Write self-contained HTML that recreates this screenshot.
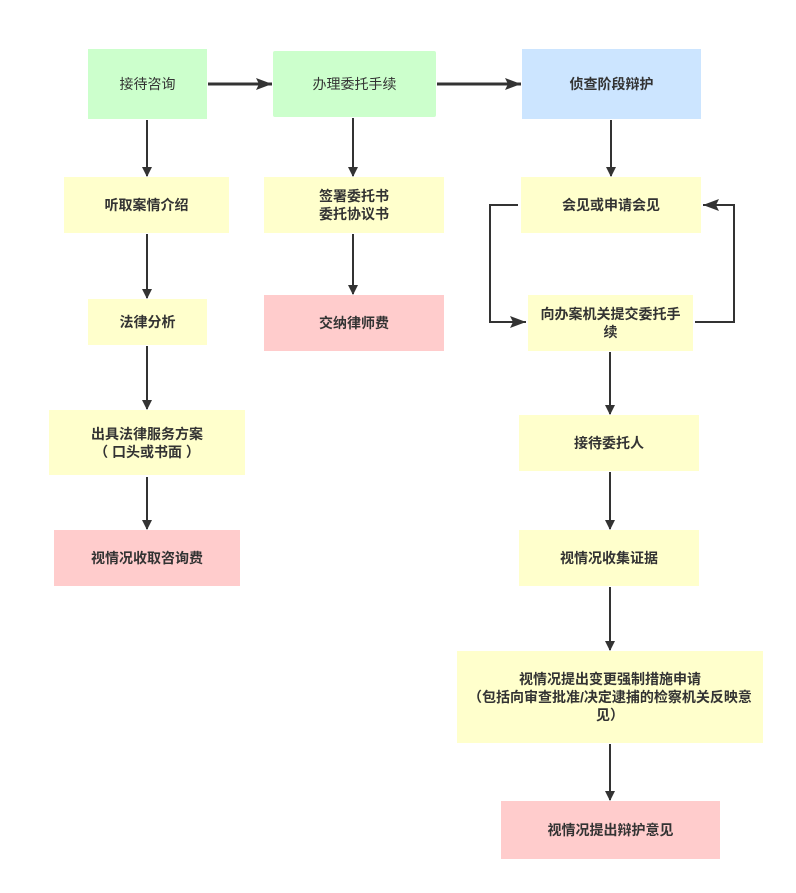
<!DOCTYPE html>
<html><head><meta charset="utf-8"><style>
body{margin:0;width:796px;height:893px;background:#fff;position:relative;overflow:hidden;font-family:"Liberation Sans","Noto Sans CJK SC",sans-serif;}
.b{position:absolute;display:flex;align-items:center;justify-content:center;text-align:center;font-size:14px;line-height:18px;color:#333;font-weight:bold;box-sizing:border-box;padding:0 4px;white-space:nowrap;}
.g{background:#ccffcc;font-weight:normal;}
.y{background:#ffffcc;}
.p{background:#ffcccc;}
.u{background:#cce5ff;}
svg{position:absolute;left:0;top:0;}
</style></head><body>
<svg width="796" height="893">
<defs><marker id="a" markerWidth="10" markerHeight="10" refX="9" refY="5" orient="auto" markerUnits="userSpaceOnUse"><path d="M0,0 L10,5 L0,10 Z" fill="#333"/></marker>
<marker id="h" markerWidth="16" markerHeight="12" refX="16" refY="6" orient="auto" markerUnits="userSpaceOnUse"><path d="M0,0 L16,6 L0,12 L3,6 Z" fill="#333"/></marker></defs>
<g stroke="#333" stroke-width="2" fill="none">
<line x1="208" y1="84" x2="272" y2="84" stroke-width="3" marker-end="url(#h)"/>
<line x1="437" y1="84" x2="521" y2="84" stroke-width="3" marker-end="url(#h)"/>
<line x1="147" y1="120" x2="147" y2="176" marker-end="url(#a)"/>
<line x1="353" y1="118" x2="353" y2="176" marker-end="url(#a)"/>
<line x1="611" y1="120" x2="611" y2="176" marker-end="url(#a)"/>
<line x1="147" y1="234" x2="147" y2="298" marker-end="url(#a)"/>
<line x1="147" y1="346" x2="147" y2="409" marker-end="url(#a)"/>
<line x1="147" y1="477" x2="147" y2="529" marker-end="url(#a)"/>
<line x1="353" y1="234" x2="353" y2="294" marker-end="url(#a)"/>
<line x1="610" y1="352" x2="610" y2="414" marker-end="url(#a)"/>
<line x1="610" y1="472" x2="610" y2="529" marker-end="url(#a)"/>
<line x1="610" y1="587" x2="610" y2="650" marker-end="url(#a)"/>
<line x1="610" y1="744" x2="610" y2="800" marker-end="url(#a)"/>
<polyline points="518,205 490,205 490,322 526,322" marker-end="url(#h)"/>
<polyline points="695,322 734,322 734,205 703,205" marker-end="url(#h)"/>
</g></svg>
<div class="b g" style="left:88px;top:49px;width:119px;height:70px">接待咨询</div>
<div class="b g" style="left:273px;top:51px;width:163px;height:66px;border-radius:2px">办理委托手续</div>
<div class="b u" style="left:522px;top:49px;width:179px;height:70px">侦查阶段辩护</div>
<div class="b y" style="left:64px;top:177px;width:165px;height:56px">听取案情介绍</div>
<div class="b y" style="left:264px;top:177px;width:180px;height:56px">签署委托书<br>委托协议书</div>
<div class="b y" style="left:88px;top:299px;width:119px;height:46px">法律分析</div>
<div class="b p" style="left:264px;top:295px;width:180px;height:56px">交纳律师费</div>
<div class="b y" style="left:49px;top:410px;width:196px;height:65px">出具法律服务方案<br>（ 口头或书面 ）</div>
<div class="b p" style="left:54px;top:530px;width:186px;height:56px">视情况收取咨询费</div>
<div class="b y" style="left:521px;top:177px;width:180px;height:56px">会见或申请会见</div>
<div class="b y" style="left:528px;top:295px;width:165px;height:56px">向办案机关提交委托手<br>续</div>
<div class="b y" style="left:519px;top:415px;width:180px;height:56px">接待委托人</div>
<div class="b y" style="left:519px;top:530px;width:180px;height:56px">视情况收集证据</div>
<div class="b y" style="left:457px;top:651px;width:306px;height:92px">视情况提出变更强制措施申请<br>（包括向审查批准/决定逮捕的检察机关反映意<br>见）</div>
<div class="b p" style="left:501px;top:801px;width:219px;height:58px">视情况提出辩护意见</div>
</body></html>
